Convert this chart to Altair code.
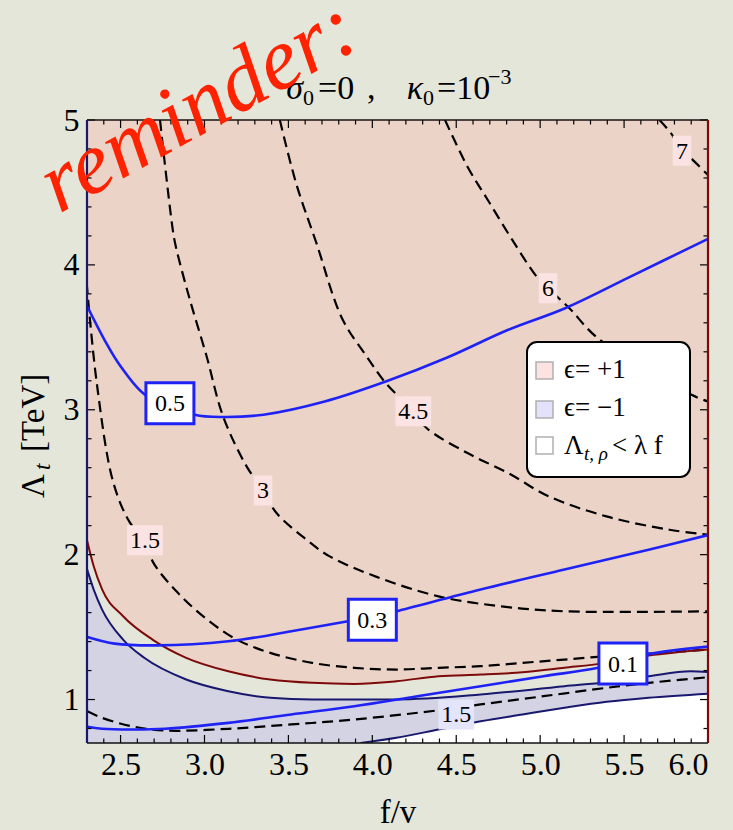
import altair as alt
import pandas as pd

SERIF = "Liberation Serif"
W, H = 621, 623
PAGE = "#e4e6da"
PINK = "#ebd4c7"
LAVENDER = "#d3d3e4"
BLUE = "#1f22f5"
MAROON = "#7d0a0a"
NAVY = "#18186e"
LABEL_PINK = "#fbe3e3"
LABEL_LAV = "#e4e4fa"

# ---- region boundaries (f/v, Lambda_t in TeV) ----
maroon_x = [2.30, 2.34, 2.39, 2.515, 2.69, 2.891, 3.142, 3.392, 3.642, 3.893,
            4.143, 4.394, 4.645, 4.895, 5.145, 5.396, 5.646, 6.0]
maroon_y = [2.10, 1.92, 1.76, 1.575, 1.414, 1.288, 1.195, 1.138, 1.115, 1.108,
            1.126, 1.161, 1.172, 1.188, 1.219, 1.253, 1.303, 1.345]

navy_up_x = [2.30, 2.34, 2.39, 2.515, 2.641, 2.891, 3.142, 3.392, 3.642, 4.143,
             4.645, 5.145, 5.396, 5.646, 5.897, 6.0]
navy_up_y = [1.90, 1.759, 1.621, 1.414, 1.288, 1.138, 1.057, 1.012, 1.0, 1.0,
             1.034, 1.092, 1.119, 1.161, 1.195, 1.19]

navy_lo_x = [3.93, 4.143, 4.394, 4.645, 4.895, 5.145, 5.396, 5.646, 6.0]
navy_lo_y = [0.70, 0.736, 0.793, 0.850, 0.897, 0.943, 0.984, 1.012, 1.04]

# ---- solid blue contours ----
b05_x = [2.302, 2.404, 2.501, 2.647, 2.794, 2.943, 3.109, 3.352, 3.716, 4.08,
         4.443, 4.81, 5.149, 5.538, 6.0]
b05_y = [3.712, 3.483, 3.299, 3.103, 3.045, 2.966, 2.950, 2.966, 3.057, 3.195,
         3.359, 3.552, 3.701, 3.919, 4.18]

b03_x = [2.302, 2.465, 2.715, 3.142, 3.517, 3.855, 4.0, 4.143, 4.645, 5.145, 5.646, 6.0]
b03_y = [1.432, 1.386, 1.374, 1.402, 1.471, 1.540, 1.57, 1.609, 1.759, 1.897, 2.034, 2.135]

b01_x = [2.302, 2.389, 2.565, 2.765, 3.142, 3.517, 3.893, 4.268, 4.645, 5.02,
         5.346, 5.633, 6.0]
b01_y = [0.812, 0.798, 0.793, 0.798, 0.839, 0.897, 0.954, 1.023, 1.092, 1.161,
         1.219, 1.310, 1.365]

# ---- dashed black contours ----
d15u_x = [2.298, 2.358, 2.457, 2.556, 2.645, 2.695, 2.840, 3.016, 3.192, 3.392,
          3.642, 3.893, 4.143, 4.394, 4.645, 4.895, 5.145, 5.396, 5.646, 6.0]
d15u_y = [3.876, 3.186, 2.497, 2.221, 2.103, 1.945, 1.738, 1.552, 1.414, 1.322,
          1.253, 1.219, 1.207, 1.219, 1.230, 1.253, 1.276, 1.299, 1.317, 1.345]

d15l_x = [2.302, 2.389, 2.565, 2.765, 3.142, 3.517, 3.893, 4.394, 4.645, 5.02,
          5.396, 5.646, 6.0]
d15l_y = [0.919, 0.874, 0.816, 0.786, 0.798, 0.828, 0.862, 0.926, 0.966, 1.023,
          1.081, 1.115, 1.154]

d3_x = [2.735, 2.814, 2.834, 2.913, 3.013, 3.111, 3.251, 3.340, 3.429, 3.608,
        3.746, 4.018, 4.394, 4.770, 5.145, 6.0]
d3_y = [5.0, 4.219, 4.103, 3.759, 3.368, 2.954, 2.609, 2.460, 2.288, 2.103,
        1.988, 1.850, 1.712, 1.643, 1.609, 1.609]

d45_x = [3.449, 3.546, 3.667, 3.820, 3.965, 4.080, 4.244, 4.323, 4.567, 4.810,
         5.052, 5.395, 5.770, 6.0]
d45_y = [5.0, 4.563, 4.150, 3.630, 3.370, 3.184, 2.99, 2.874, 2.701, 2.563,
         2.402, 2.264, 2.172, 2.138]

d6_x = [4.433, 4.567, 4.688, 4.834, 4.979, 5.047, 5.174, 5.344, 5.902, 6.0]
d6_y = [5.0, 4.678, 4.448, 4.172, 3.919, 3.839, 3.701, 3.494, 3.103, 3.057]

d7_x = [5.711, 5.780, 5.845, 5.899, 6.0]
d7_y = [5.0, 4.908, 4.79, 4.736, 4.62]

# ---- contour labels ----
blue_lab_text = ["0.5", "0.3", "0.1"]
blue_lab_x = [2.794, 4.0, 5.493]
blue_lab_y = [3.045, 1.55, 1.248]

dash_lab_text = ["1.5", "3", "4.5", "6", "7", "1.5"]
dash_lab_x = [2.645, 3.349, 4.244, 5.047, 5.845, 4.50]
dash_lab_y = [2.10, 2.443, 2.99, 3.839, 4.788, 0.897]
dash_lab_in_lavender = [False, False, False, False, False, True]

# ---- axes ----
x_major = [2.5, 3.0, 3.5, 4.0, 4.5, 5.0, 5.5, 6.0]
x_minor = [round(2.3 + 0.1 * k, 1) for k in range(38)]
y_major = [1, 2, 3, 4, 5]
y_minor = [round(0.8 + 0.2 * k, 1) for k in range(22)]
Y_BOTTOM, Y_TOP = 0.7, 5.0

xs = alt.Scale(domain=[2.3, 6.0], nice=False, zero=False)
ys = alt.Scale(domain=[Y_BOTTOM, Y_TOP], nice=False, zero=False)
x_axis = alt.Axis(values=x_major, format=".1f", ticks=False, domain=False, grid=False,
                  title=None, labelFont=SERIF, labelFontSize=32, labelColor="black",
                  labelPadding=6)
y_axis = alt.Axis(values=y_major, format="d", ticks=False, domain=False, grid=False,
                  title=None, labelFont=SERIF, labelFontSize=32, labelColor="black",
                  labelPadding=8)
X = alt.X("fv:Q", scale=xs, axis=x_axis)
Y = alt.Y("lam:Q", scale=ys, axis=y_axis)

ONE = pd.DataFrame({"k": [0]})


def curve(xv, yv):
    return pd.DataFrame({"fv": xv, "lam": yv, "i": list(range(len(xv)))})


def region(xv, yv, color, edge):
    d = curve(xv, yv)
    d["edge"] = edge
    return alt.Chart(d).mark_area(color=color, clip=True, interpolate="monotone",
                                  opacity=1).encode(
        x=X, y=Y, y2=alt.Y2("edge:Q"))


def line(xv, yv, color, width, dash=None, interp="catmull-rom"):
    kw = dict(color=color, strokeWidth=width, clip=True, interpolate=interp)
    if dash:
        kw["strokeDash"] = dash
    return alt.Chart(curve(xv, yv)).mark_line(**kw).encode(x=X, y=Y, order="i:Q")


def txt(s, x, y, size, italic=False, angle=None, color="black", align="left"):
    kw = dict(text=s, font=SERIF, fontSize=size, color=color, align=align,
              baseline="alphabetic")
    if italic:
        kw["fontStyle"] = "italic"
    if angle is not None:
        kw["angle"] = angle
    return alt.Chart(ONE).mark_text(**kw).encode(x=alt.value(x), y=alt.value(y))


layers = []

# filled regions
layers.append(region(maroon_x, maroon_y, PINK, Y_TOP))
layers.append(region(navy_up_x, navy_up_y, LAVENDER, Y_BOTTOM))
layers.append(region(navy_lo_x, navy_lo_y, "white", Y_BOTTOM))

# dashed contours
DASH = [11, 6]
for cx, cy in [(d15u_x, d15u_y), (d15l_x, d15l_y), (d3_x, d3_y),
               (d45_x, d45_y), (d6_x, d6_y), (d7_x, d7_y)]:
    layers.append(line(cx, cy, "black", 2.2, DASH))

# region boundaries (same interpolation as the filled regions)
layers.append(line(maroon_x, maroon_y, MAROON, 2, interp="monotone"))
layers.append(line(navy_up_x, navy_up_y, NAVY, 2, interp="monotone"))
layers.append(line(navy_lo_x, navy_lo_y, NAVY, 2, interp="monotone"))

# blue contours
for cx, cy in [(b05_x, b05_y), (b03_x, b03_y), (b01_x, b01_y)]:
    layers.append(line(cx, cy, BLUE, 2.6))

# dashed-contour labels
for t, lx, ly, lav in zip(dash_lab_text, dash_lab_x, dash_lab_y, dash_lab_in_lavender):
    d = pd.DataFrame({"fv": [lx], "lam": [ly], "t": [t]})
    w = 7 + 11.5 * sum(0.5 if c == "." else 1 for c in t)
    layers.append(alt.Chart(d).mark_rect(width=w, height=30,
                                         color=LABEL_LAV if lav else LABEL_PINK)
                  .encode(x=X, y=Y))
    layers.append(alt.Chart(d).mark_text(font=SERIF, fontSize=24, color="black",
                                         baseline="middle", align="center", dy=1)
                  .encode(x=X, y=Y, text="t:N"))

# blue-contour labels
blue_df = pd.DataFrame({"fv": blue_lab_x, "lam": blue_lab_y, "t": blue_lab_text})
layers.append(alt.Chart(blue_df).mark_rect(width=48, height=41, fill="white",
                                           stroke=BLUE, strokeWidth=3)
              .encode(x=X, y=Y))
layers.append(alt.Chart(blue_df).mark_text(font=SERIF, fontSize=24, color="black",
                                           baseline="middle", align="center", dy=1)
              .encode(x=X, y=Y, text="t:N"))

# frame ticks (inward, all four sides)
xmaj_df = pd.DataFrame({"fv": x_major})
xmin_df = pd.DataFrame({"fv": [v for v in x_minor if v not in x_major]})
ymaj_df = pd.DataFrame({"lam": y_major})
ymin_df = pd.DataFrame({"lam": [v for v in y_minor if v not in y_major]})
for dfx, ln in [(xmaj_df, 8), (xmin_df, 4.5)]:
    layers.append(alt.Chart(dfx).mark_rule(color="black", strokeWidth=1.2)
                  .encode(x=X, y=alt.value(H), y2=alt.value(H - ln)))
    layers.append(alt.Chart(dfx).mark_rule(color="black", strokeWidth=1.2)
                  .encode(x=X, y=alt.value(0), y2=alt.value(ln)))
for dfy, ln in [(ymaj_df, 8), (ymin_df, 4.5)]:
    layers.append(alt.Chart(dfy).mark_rule(color="black", strokeWidth=1.2)
                  .encode(y=Y, x=alt.value(0), x2=alt.value(ln)))
    layers.append(alt.Chart(dfy).mark_rule(color="black", strokeWidth=1.2)
                  .encode(y=Y, x=alt.value(W), x2=alt.value(W - ln)))

# frame edges
layers.append(alt.Chart(ONE).mark_rule(color="#1a1010", strokeWidth=1.6)
              .encode(x=alt.value(0), x2=alt.value(W), y=alt.value(0)))
layers.append(alt.Chart(ONE).mark_rule(color="#101010", strokeWidth=1.6)
              .encode(x=alt.value(0), x2=alt.value(W), y=alt.value(H)))
layers.append(alt.Chart(ONE).mark_rule(color=NAVY, strokeWidth=2.2)
              .encode(x=alt.value(0), y=alt.value(0), y2=alt.value(H)))
layers.append(alt.Chart(ONE).mark_rule(color=MAROON, strokeWidth=2.2)
              .encode(x=alt.value(W), y=alt.value(0), y2=alt.value(H)))

# legend
layers.append(alt.Chart(ONE).mark_rect(fill="white", stroke="black", strokeWidth=2,
                                       cornerRadius=10)
              .encode(x=alt.value(440), x2=alt.value(603),
                      y=alt.value(222), y2=alt.value(357)))
for sy, col in [(242, "#fde2e2"), (281, "#e2e2fb"), (317, "white")]:
    layers.append(alt.Chart(ONE).mark_rect(fill=col, stroke="#b0b0b0", strokeWidth=1.5)
                  .encode(x=alt.value(449), x2=alt.value(466),
                          y=alt.value(sy), y2=alt.value(sy + 17)))
layers.append(txt("\u03f5= +1", 477, 258, 27))
layers.append(txt("\u03f5= \u22121", 477, 296, 27))
layers.append(txt("\u039b", 477, 334, 27))
layers.append(txt("t, \u03c1", 497, 340, 19, italic=True))
layers.append(txt("< \u03bb f", 525, 334, 27))

# plot title  sigma_0 = 0 ,  kappa_0 = 10^-3
layers.append(txt("\u03c3", 216, -21, 34, italic=True, align="right"))
layers.append(txt("0", 216, -15, 22))
layers.append(txt("=0", 231, -21, 34))
layers.append(txt(",", 280, -21, 34))
layers.append(txt("\u03ba", 336, -21, 34, italic=True, align="right"))
layers.append(txt("0", 336, -15, 22))
layers.append(txt("=10", 350, -21, 34))
layers.append(txt("\u22123", 401, -36, 22))

# axis titles
layers.append(txt("f/v", 311, 703, 33, align="center"))
layers.append(txt("\u039b", -43, 378, 33, angle=270))
layers.append(txt("t", -37, 350, 23, italic=True, angle=270))
layers.append(txt("[TeV]", -43, 332, 33, angle=270))

# red note
layers.append(txt("reminder:", -28, 94, 88, italic=True, angle=331, color="#ff2200"))

chart = alt.layer(*layers).properties(
    width=W, height=H,
    padding={"left": 87, "top": 120, "right": 25, "bottom": 87},
    autosize=alt.AutoSizeParams(type="none"),
    background=PAGE,
).configure_view(stroke=None, fill=PAGE)

chart.save("out.html", embed_options={"renderer": "svg", "actions": False})
